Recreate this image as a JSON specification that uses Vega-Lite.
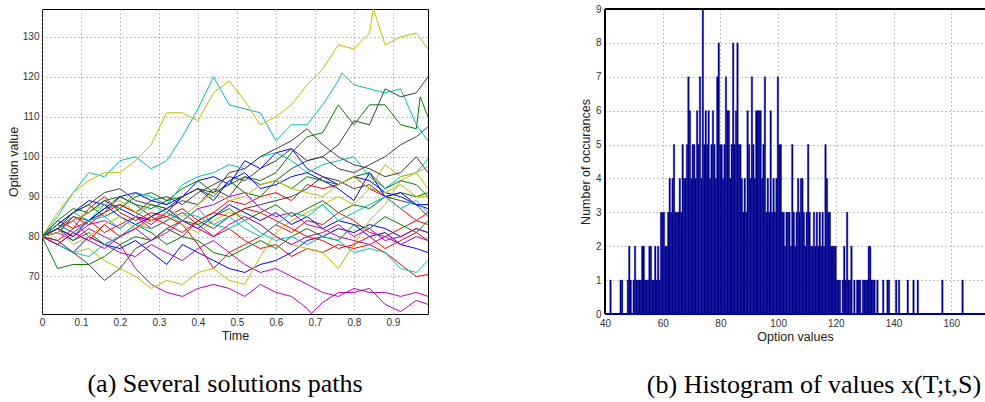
{
"$schema": "https://vega.github.io/schema/vega-lite/v6.json",
"padding": {"left": 6, "top": 4, "right": 0, "bottom": 0},
"background": "white",
"spacing": 150,
"config": {
 "font": "Liberation Sans",
 "view": {"stroke": "#000", "strokeWidth": 1},
 "axis": {"grid": true, "gridDash": [1, 3], "gridColor": "#888", "gridOpacity": 1, "domain": false, "ticks": false,
  "labelFont": "Liberation Sans", "labelFontSize": 10, "labelColor": "#333", "labelPadding": 3,
  "titleFont": "Liberation Sans", "titleFontSize": 12.5, "titleFontWeight": "normal", "titleColor": "#222", "titlePadding": 2,
  "labelFlush": false, "labelOverlap": false},
 "title": {"font": "Liberation Serif", "fontSize": 26, "fontWeight": "normal", "color": "#000", "orient": "bottom", "baseline": "top", "offset": 29}
},
"datasets": {
 "paths": [
{"s":"B1","t":0,"v":80},{"s":"B1","t":0.04,"v":81},{"s":"B1","t":0.08,"v":84},{"s":"B1","t":0.12,"v":86},{"s":"B1","t":0.16,"v":89},{"s":"B1","t":0.2,"v":87},{"s":"B1","t":0.24,"v":85},{"s":"B1","t":0.28,"v":84},{"s":"B1","t":0.32,"v":86},{"s":"B1","t":0.36,"v":90},{"s":"B1","t":0.4,"v":94},{"s":"B1","t":0.44,"v":95},{"s":"B1","t":0.48,"v":93},{"s":"B1","t":0.52,"v":99},{"s":"B1","t":0.56,"v":97},{"s":"B1","t":0.6,"v":101},{"s":"B1","t":0.64,"v":102},{"s":"B1","t":0.68,"v":97},{"s":"B1","t":0.72,"v":95},{"s":"B1","t":0.76,"v":93},{"s":"B1","t":0.8,"v":95},{"s":"B1","t":0.84,"v":94},{"s":"B1","t":0.88,"v":91},{"s":"B1","t":0.92,"v":90},{"s":"B1","t":0.96,"v":88},{"s":"B1","t":0.99,"v":87},
{"s":"G1","t":0,"v":80},{"s":"G1","t":0.04,"v":83},{"s":"G1","t":0.08,"v":86},{"s":"G1","t":0.12,"v":88},{"s":"G1","t":0.16,"v":85},{"s":"G1","t":0.2,"v":87},{"s":"G1","t":0.24,"v":90},{"s":"G1","t":0.28,"v":91},{"s":"G1","t":0.32,"v":89},{"s":"G1","t":0.36,"v":92},{"s":"G1","t":0.4,"v":94},{"s":"G1","t":0.44,"v":91},{"s":"G1","t":0.48,"v":93},{"s":"G1","t":0.52,"v":95},{"s":"G1","t":0.56,"v":94},{"s":"G1","t":0.6,"v":96},{"s":"G1","t":0.64,"v":101},{"s":"G1","t":0.68,"v":105},{"s":"G1","t":0.72,"v":106},{"s":"G1","t":0.76,"v":113},{"s":"G1","t":0.8,"v":108},{"s":"G1","t":0.84,"v":113},{"s":"G1","t":0.88,"v":113},{"s":"G1","t":0.92,"v":108},{"s":"G1","t":0.96,"v":107},{"s":"G1","t":0.97,"v":115},{"s":"G1","t":0.99,"v":110},
{"s":"R1","t":0,"v":80},{"s":"R1","t":0.04,"v":79},{"s":"R1","t":0.08,"v":82},{"s":"R1","t":0.12,"v":84},{"s":"R1","t":0.16,"v":81},{"s":"R1","t":0.2,"v":83},{"s":"R1","t":0.24,"v":85},{"s":"R1","t":0.28,"v":82},{"s":"R1","t":0.32,"v":84},{"s":"R1","t":0.36,"v":86},{"s":"R1","t":0.4,"v":83},{"s":"R1","t":0.44,"v":80},{"s":"R1","t":0.48,"v":82},{"s":"R1","t":0.52,"v":79},{"s":"R1","t":0.56,"v":77},{"s":"R1","t":0.6,"v":78},{"s":"R1","t":0.64,"v":75},{"s":"R1","t":0.68,"v":77},{"s":"R1","t":0.72,"v":76},{"s":"R1","t":0.76,"v":78},{"s":"R1","t":0.8,"v":77},{"s":"R1","t":0.84,"v":78},{"s":"R1","t":0.88,"v":76},{"s":"R1","t":0.92,"v":73},{"s":"R1","t":0.96,"v":70},{"s":"R1","t":0.99,"v":70.5},
{"s":"C1","t":0,"v":80},{"s":"C1","t":0.04,"v":85},{"s":"C1","t":0.08,"v":91},{"s":"C1","t":0.12,"v":96},{"s":"C1","t":0.16,"v":95},{"s":"C1","t":0.2,"v":99},{"s":"C1","t":0.24,"v":100},{"s":"C1","t":0.28,"v":97},{"s":"C1","t":0.32,"v":99},{"s":"C1","t":0.36,"v":105},{"s":"C1","t":0.4,"v":112},{"s":"C1","t":0.44,"v":120},{"s":"C1","t":0.48,"v":113},{"s":"C1","t":0.52,"v":112},{"s":"C1","t":0.56,"v":111},{"s":"C1","t":0.6,"v":104},{"s":"C1","t":0.64,"v":108},{"s":"C1","t":0.68,"v":108},{"s":"C1","t":0.72,"v":113},{"s":"C1","t":0.76,"v":119},{"s":"C1","t":0.77,"v":121},{"s":"C1","t":0.8,"v":118},{"s":"C1","t":0.84,"v":117},{"s":"C1","t":0.88,"v":116},{"s":"C1","t":0.92,"v":117},{"s":"C1","t":0.96,"v":108},{"s":"C1","t":0.99,"v":104},
{"s":"M1","t":0,"v":80},{"s":"M1","t":0.04,"v":81},{"s":"M1","t":0.08,"v":79},{"s":"M1","t":0.12,"v":82},{"s":"M1","t":0.16,"v":80},{"s":"M1","t":0.2,"v":78},{"s":"M1","t":0.24,"v":72},{"s":"M1","t":0.28,"v":68},{"s":"M1","t":0.32,"v":66},{"s":"M1","t":0.36,"v":65},{"s":"M1","t":0.4,"v":67},{"s":"M1","t":0.44,"v":68},{"s":"M1","t":0.48,"v":67},{"s":"M1","t":0.52,"v":65},{"s":"M1","t":0.56,"v":68},{"s":"M1","t":0.6,"v":66},{"s":"M1","t":0.64,"v":65},{"s":"M1","t":0.68,"v":62},{"s":"M1","t":0.69,"v":60.7},{"s":"M1","t":0.72,"v":63.5},{"s":"M1","t":0.76,"v":66},{"s":"M1","t":0.8,"v":66},{"s":"M1","t":0.84,"v":67},{"s":"M1","t":0.88,"v":63},{"s":"M1","t":0.92,"v":61.2},{"s":"M1","t":0.96,"v":64},{"s":"M1","t":0.99,"v":63},
{"s":"Y1","t":0,"v":80},{"s":"Y1","t":0.04,"v":86},{"s":"Y1","t":0.08,"v":91},{"s":"Y1","t":0.12,"v":94},{"s":"Y1","t":0.16,"v":96},{"s":"Y1","t":0.2,"v":96},{"s":"Y1","t":0.24,"v":99},{"s":"Y1","t":0.28,"v":103},{"s":"Y1","t":0.32,"v":111},{"s":"Y1","t":0.36,"v":111},{"s":"Y1","t":0.4,"v":109},{"s":"Y1","t":0.44,"v":116},{"s":"Y1","t":0.48,"v":119},{"s":"Y1","t":0.52,"v":114},{"s":"Y1","t":0.56,"v":108},{"s":"Y1","t":0.6,"v":110},{"s":"Y1","t":0.64,"v":113},{"s":"Y1","t":0.68,"v":118},{"s":"Y1","t":0.72,"v":122},{"s":"Y1","t":0.76,"v":128},{"s":"Y1","t":0.8,"v":127},{"s":"Y1","t":0.84,"v":131},{"s":"Y1","t":0.85,"v":137},{"s":"Y1","t":0.88,"v":128},{"s":"Y1","t":0.92,"v":130},{"s":"Y1","t":0.96,"v":131},{"s":"Y1","t":0.99,"v":127},
{"s":"K1","t":0,"v":80},{"s":"K1","t":0.04,"v":82},{"s":"K1","t":0.08,"v":85},{"s":"K1","t":0.12,"v":84},{"s":"K1","t":0.16,"v":87},{"s":"K1","t":0.2,"v":88},{"s":"K1","t":0.24,"v":86},{"s":"K1","t":0.28,"v":89},{"s":"K1","t":0.32,"v":90},{"s":"K1","t":0.36,"v":88},{"s":"K1","t":0.4,"v":91},{"s":"K1","t":0.44,"v":93},{"s":"K1","t":0.48,"v":95},{"s":"K1","t":0.52,"v":94},{"s":"K1","t":0.56,"v":97},{"s":"K1","t":0.6,"v":99},{"s":"K1","t":0.64,"v":102},{"s":"K1","t":0.68,"v":99},{"s":"K1","t":0.72,"v":100},{"s":"K1","t":0.76,"v":103},{"s":"K1","t":0.8,"v":109},{"s":"K1","t":0.84,"v":108},{"s":"K1","t":0.88,"v":117},{"s":"K1","t":0.92,"v":115},{"s":"K1","t":0.96,"v":116},{"s":"K1","t":0.99,"v":120},
{"s":"B2","t":0,"v":80},{"s":"B2","t":0.04,"v":78},{"s":"B2","t":0.08,"v":76},{"s":"B2","t":0.12,"v":80},{"s":"B2","t":0.16,"v":78},{"s":"B2","t":0.2,"v":77},{"s":"B2","t":0.24,"v":79},{"s":"B2","t":0.28,"v":76},{"s":"B2","t":0.32,"v":73},{"s":"B2","t":0.36,"v":78},{"s":"B2","t":0.4,"v":76},{"s":"B2","t":0.44,"v":74},{"s":"B2","t":0.48,"v":72},{"s":"B2","t":0.52,"v":71},{"s":"B2","t":0.56,"v":73},{"s":"B2","t":0.6,"v":74},{"s":"B2","t":0.64,"v":76},{"s":"B2","t":0.68,"v":79},{"s":"B2","t":0.72,"v":80},{"s":"B2","t":0.76,"v":82},{"s":"B2","t":0.8,"v":81},{"s":"B2","t":0.84,"v":83},{"s":"B2","t":0.88,"v":82},{"s":"B2","t":0.92,"v":80},{"s":"B2","t":0.96,"v":82},{"s":"B2","t":0.99,"v":81},
{"s":"G2","t":0,"v":80},{"s":"G2","t":0.04,"v":72},{"s":"G2","t":0.08,"v":73},{"s":"G2","t":0.12,"v":73},{"s":"G2","t":0.16,"v":75},{"s":"G2","t":0.2,"v":78},{"s":"G2","t":0.24,"v":80},{"s":"G2","t":0.28,"v":79},{"s":"G2","t":0.32,"v":82},{"s":"G2","t":0.36,"v":84},{"s":"G2","t":0.4,"v":83},{"s":"G2","t":0.44,"v":85},{"s":"G2","t":0.48,"v":87},{"s":"G2","t":0.52,"v":84},{"s":"G2","t":0.56,"v":86},{"s":"G2","t":0.6,"v":88},{"s":"G2","t":0.64,"v":85},{"s":"G2","t":0.68,"v":87},{"s":"G2","t":0.72,"v":89},{"s":"G2","t":0.76,"v":86},{"s":"G2","t":0.8,"v":88},{"s":"G2","t":0.84,"v":87},{"s":"G2","t":0.88,"v":90},{"s":"G2","t":0.92,"v":91},{"s":"G2","t":0.96,"v":90},{"s":"G2","t":0.99,"v":91},
{"s":"R2","t":0,"v":80},{"s":"R2","t":0.04,"v":84},{"s":"R2","t":0.08,"v":82},{"s":"R2","t":0.12,"v":87},{"s":"R2","t":0.16,"v":90},{"s":"R2","t":0.2,"v":86},{"s":"R2","t":0.24,"v":84},{"s":"R2","t":0.28,"v":86},{"s":"R2","t":0.32,"v":85},{"s":"R2","t":0.36,"v":83},{"s":"R2","t":0.4,"v":78},{"s":"R2","t":0.44,"v":72},{"s":"R2","t":0.48,"v":76},{"s":"R2","t":0.52,"v":78},{"s":"R2","t":0.56,"v":80},{"s":"R2","t":0.6,"v":83},{"s":"R2","t":0.64,"v":81},{"s":"R2","t":0.68,"v":84},{"s":"R2","t":0.72,"v":83},{"s":"R2","t":0.76,"v":86},{"s":"R2","t":0.8,"v":84},{"s":"R2","t":0.84,"v":81},{"s":"R2","t":0.88,"v":80},{"s":"R2","t":0.92,"v":82},{"s":"R2","t":0.96,"v":84},{"s":"R2","t":0.99,"v":83},
{"s":"C2","t":0,"v":80},{"s":"C2","t":0.04,"v":83},{"s":"C2","t":0.08,"v":86},{"s":"C2","t":0.12,"v":84},{"s":"C2","t":0.16,"v":88},{"s":"C2","t":0.2,"v":87},{"s":"C2","t":0.24,"v":91},{"s":"C2","t":0.28,"v":90},{"s":"C2","t":0.32,"v":88},{"s":"C2","t":0.36,"v":93},{"s":"C2","t":0.4,"v":95},{"s":"C2","t":0.44,"v":96},{"s":"C2","t":0.48,"v":98},{"s":"C2","t":0.52,"v":97},{"s":"C2","t":0.56,"v":100},{"s":"C2","t":0.6,"v":101},{"s":"C2","t":0.64,"v":99},{"s":"C2","t":0.68,"v":96},{"s":"C2","t":0.72,"v":98},{"s":"C2","t":0.76,"v":99},{"s":"C2","t":0.8,"v":100},{"s":"C2","t":0.84,"v":95},{"s":"C2","t":0.88,"v":92},{"s":"C2","t":0.92,"v":95},{"s":"C2","t":0.96,"v":96},{"s":"C2","t":0.99,"v":99.5},
{"s":"M2","t":0,"v":80},{"s":"M2","t":0.04,"v":82},{"s":"M2","t":0.08,"v":84},{"s":"M2","t":0.12,"v":80},{"s":"M2","t":0.16,"v":78},{"s":"M2","t":0.2,"v":76},{"s":"M2","t":0.24,"v":75},{"s":"M2","t":0.28,"v":78},{"s":"M2","t":0.32,"v":76},{"s":"M2","t":0.36,"v":74},{"s":"M2","t":0.4,"v":77},{"s":"M2","t":0.44,"v":79},{"s":"M2","t":0.48,"v":76},{"s":"M2","t":0.52,"v":73},{"s":"M2","t":0.56,"v":71},{"s":"M2","t":0.6,"v":72},{"s":"M2","t":0.64,"v":70},{"s":"M2","t":0.68,"v":68},{"s":"M2","t":0.72,"v":66},{"s":"M2","t":0.76,"v":65},{"s":"M2","t":0.8,"v":67},{"s":"M2","t":0.84,"v":66},{"s":"M2","t":0.88,"v":66},{"s":"M2","t":0.92,"v":65},{"s":"M2","t":0.96,"v":66},{"s":"M2","t":0.99,"v":65},
{"s":"Y2","t":0,"v":80},{"s":"Y2","t":0.04,"v":79},{"s":"Y2","t":0.08,"v":76},{"s":"Y2","t":0.12,"v":77},{"s":"Y2","t":0.16,"v":74},{"s":"Y2","t":0.2,"v":72},{"s":"Y2","t":0.24,"v":70},{"s":"Y2","t":0.28,"v":67},{"s":"Y2","t":0.32,"v":69},{"s":"Y2","t":0.36,"v":68},{"s":"Y2","t":0.4,"v":71},{"s":"Y2","t":0.44,"v":72},{"s":"Y2","t":0.48,"v":69},{"s":"Y2","t":0.52,"v":68},{"s":"Y2","t":0.56,"v":75},{"s":"Y2","t":0.6,"v":81},{"s":"Y2","t":0.64,"v":84},{"s":"Y2","t":0.68,"v":86},{"s":"Y2","t":0.72,"v":88},{"s":"Y2","t":0.76,"v":90},{"s":"Y2","t":0.8,"v":88},{"s":"Y2","t":0.84,"v":92},{"s":"Y2","t":0.88,"v":91},{"s":"Y2","t":0.92,"v":93},{"s":"Y2","t":0.96,"v":90},{"s":"Y2","t":0.99,"v":90},
{"s":"K2","t":0,"v":80},{"s":"K2","t":0.04,"v":83},{"s":"K2","t":0.08,"v":81},{"s":"K2","t":0.12,"v":84},{"s":"K2","t":0.16,"v":86},{"s":"K2","t":0.2,"v":90},{"s":"K2","t":0.24,"v":88},{"s":"K2","t":0.28,"v":85},{"s":"K2","t":0.32,"v":87},{"s":"K2","t":0.36,"v":89},{"s":"K2","t":0.4,"v":88},{"s":"K2","t":0.44,"v":92},{"s":"K2","t":0.48,"v":90},{"s":"K2","t":0.52,"v":95},{"s":"K2","t":0.56,"v":93},{"s":"K2","t":0.6,"v":94},{"s":"K2","t":0.64,"v":97},{"s":"K2","t":0.68,"v":99},{"s":"K2","t":0.72,"v":100},{"s":"K2","t":0.76,"v":97},{"s":"K2","t":0.8,"v":96},{"s":"K2","t":0.84,"v":98},{"s":"K2","t":0.88,"v":100},{"s":"K2","t":0.92,"v":103},{"s":"K2","t":0.96,"v":105},{"s":"K2","t":0.99,"v":107.5},
{"s":"B3","t":0,"v":80},{"s":"B3","t":0.04,"v":83},{"s":"B3","t":0.08,"v":86},{"s":"B3","t":0.12,"v":89},{"s":"B3","t":0.16,"v":88},{"s":"B3","t":0.2,"v":85},{"s":"B3","t":0.24,"v":83},{"s":"B3","t":0.28,"v":85},{"s":"B3","t":0.32,"v":87},{"s":"B3","t":0.36,"v":84},{"s":"B3","t":0.4,"v":82},{"s":"B3","t":0.44,"v":85},{"s":"B3","t":0.48,"v":88},{"s":"B3","t":0.52,"v":86},{"s":"B3","t":0.56,"v":84},{"s":"B3","t":0.6,"v":86},{"s":"B3","t":0.64,"v":83},{"s":"B3","t":0.68,"v":85},{"s":"B3","t":0.72,"v":82},{"s":"B3","t":0.76,"v":84},{"s":"B3","t":0.8,"v":83},{"s":"B3","t":0.84,"v":80},{"s":"B3","t":0.88,"v":81},{"s":"B3","t":0.92,"v":78},{"s":"B3","t":0.96,"v":77},{"s":"B3","t":0.99,"v":76},
{"s":"G3","t":0,"v":80},{"s":"G3","t":0.04,"v":82},{"s":"G3","t":0.08,"v":79},{"s":"G3","t":0.12,"v":81},{"s":"G3","t":0.16,"v":78},{"s":"G3","t":0.2,"v":80},{"s":"G3","t":0.24,"v":83},{"s":"G3","t":0.28,"v":81},{"s":"G3","t":0.32,"v":78},{"s":"G3","t":0.36,"v":80},{"s":"G3","t":0.4,"v":79},{"s":"G3","t":0.44,"v":76},{"s":"G3","t":0.48,"v":75},{"s":"G3","t":0.52,"v":77},{"s":"G3","t":0.56,"v":79},{"s":"G3","t":0.6,"v":77},{"s":"G3","t":0.64,"v":80},{"s":"G3","t":0.68,"v":82},{"s":"G3","t":0.72,"v":80},{"s":"G3","t":0.76,"v":79},{"s":"G3","t":0.8,"v":83},{"s":"G3","t":0.84,"v":82},{"s":"G3","t":0.88,"v":85},{"s":"G3","t":0.92,"v":83},{"s":"G3","t":0.96,"v":81},{"s":"G3","t":0.99,"v":84},
{"s":"R3","t":0,"v":80},{"s":"R3","t":0.04,"v":81},{"s":"R3","t":0.08,"v":85},{"s":"R3","t":0.12,"v":83},{"s":"R3","t":0.16,"v":86},{"s":"R3","t":0.2,"v":88},{"s":"R3","t":0.24,"v":86},{"s":"R3","t":0.28,"v":84},{"s":"R3","t":0.32,"v":85},{"s":"R3","t":0.36,"v":87},{"s":"R3","t":0.4,"v":84},{"s":"R3","t":0.44,"v":86},{"s":"R3","t":0.48,"v":89},{"s":"R3","t":0.52,"v":88},{"s":"R3","t":0.56,"v":90},{"s":"R3","t":0.6,"v":91},{"s":"R3","t":0.64,"v":89},{"s":"R3","t":0.68,"v":93},{"s":"R3","t":0.72,"v":92},{"s":"R3","t":0.76,"v":93},{"s":"R3","t":0.8,"v":95},{"s":"R3","t":0.84,"v":92},{"s":"R3","t":0.88,"v":90},{"s":"R3","t":0.92,"v":87},{"s":"R3","t":0.96,"v":84},{"s":"R3","t":0.99,"v":86},
{"s":"C3","t":0,"v":80},{"s":"C3","t":0.04,"v":78},{"s":"C3","t":0.08,"v":76},{"s":"C3","t":0.12,"v":75},{"s":"C3","t":0.16,"v":78},{"s":"C3","t":0.2,"v":80},{"s":"C3","t":0.24,"v":83},{"s":"C3","t":0.28,"v":82},{"s":"C3","t":0.32,"v":84},{"s":"C3","t":0.36,"v":86},{"s":"C3","t":0.4,"v":85},{"s":"C3","t":0.44,"v":83},{"s":"C3","t":0.48,"v":82},{"s":"C3","t":0.52,"v":84},{"s":"C3","t":0.56,"v":81},{"s":"C3","t":0.6,"v":79},{"s":"C3","t":0.64,"v":80},{"s":"C3","t":0.68,"v":78},{"s":"C3","t":0.72,"v":80},{"s":"C3","t":0.76,"v":79},{"s":"C3","t":0.8,"v":76},{"s":"C3","t":0.84,"v":77},{"s":"C3","t":0.88,"v":76},{"s":"C3","t":0.92,"v":72},{"s":"C3","t":0.96,"v":71},{"s":"C3","t":0.99,"v":74},
{"s":"M3","t":0,"v":80},{"s":"M3","t":0.04,"v":82},{"s":"M3","t":0.08,"v":80},{"s":"M3","t":0.12,"v":83},{"s":"M3","t":0.16,"v":84},{"s":"M3","t":0.2,"v":82},{"s":"M3","t":0.24,"v":85},{"s":"M3","t":0.28,"v":83},{"s":"M3","t":0.32,"v":86},{"s":"M3","t":0.36,"v":84},{"s":"M3","t":0.4,"v":87},{"s":"M3","t":0.44,"v":88},{"s":"M3","t":0.48,"v":90},{"s":"M3","t":0.52,"v":91},{"s":"M3","t":0.56,"v":87},{"s":"M3","t":0.6,"v":85},{"s":"M3","t":0.64,"v":86},{"s":"M3","t":0.68,"v":83},{"s":"M3","t":0.72,"v":82},{"s":"M3","t":0.76,"v":80},{"s":"M3","t":0.8,"v":79},{"s":"M3","t":0.84,"v":78},{"s":"M3","t":0.88,"v":80},{"s":"M3","t":0.92,"v":78},{"s":"M3","t":0.96,"v":80},{"s":"M3","t":0.99,"v":79},
{"s":"Y3","t":0,"v":80},{"s":"Y3","t":0.04,"v":82},{"s":"Y3","t":0.08,"v":78},{"s":"Y3","t":0.12,"v":80},{"s":"Y3","t":0.16,"v":83},{"s":"Y3","t":0.2,"v":85},{"s":"Y3","t":0.24,"v":82},{"s":"Y3","t":0.28,"v":84},{"s":"Y3","t":0.32,"v":86},{"s":"Y3","t":0.36,"v":83},{"s":"Y3","t":0.4,"v":81},{"s":"Y3","t":0.44,"v":84},{"s":"Y3","t":0.48,"v":86},{"s":"Y3","t":0.52,"v":85},{"s":"Y3","t":0.56,"v":83},{"s":"Y3","t":0.6,"v":80},{"s":"Y3","t":0.64,"v":78},{"s":"Y3","t":0.68,"v":77},{"s":"Y3","t":0.72,"v":76},{"s":"Y3","t":0.76,"v":72},{"s":"Y3","t":0.8,"v":78},{"s":"Y3","t":0.84,"v":84},{"s":"Y3","t":0.88,"v":88},{"s":"Y3","t":0.92,"v":94},{"s":"Y3","t":0.96,"v":96},{"s":"Y3","t":0.99,"v":97.5},
{"s":"K3","t":0,"v":80},{"s":"K3","t":0.04,"v":79},{"s":"K3","t":0.08,"v":76},{"s":"K3","t":0.12,"v":73},{"s":"K3","t":0.16,"v":69},{"s":"K3","t":0.2,"v":72},{"s":"K3","t":0.24,"v":77},{"s":"K3","t":0.28,"v":79},{"s":"K3","t":0.32,"v":82},{"s":"K3","t":0.36,"v":80},{"s":"K3","t":0.4,"v":84},{"s":"K3","t":0.44,"v":82},{"s":"K3","t":0.48,"v":85},{"s":"K3","t":0.52,"v":87},{"s":"K3","t":0.56,"v":88},{"s":"K3","t":0.6,"v":89},{"s":"K3","t":0.64,"v":90},{"s":"K3","t":0.68,"v":92},{"s":"K3","t":0.72,"v":95},{"s":"K3","t":0.76,"v":94},{"s":"K3","t":0.8,"v":92},{"s":"K3","t":0.84,"v":93},{"s":"K3","t":0.88,"v":90},{"s":"K3","t":0.92,"v":89},{"s":"K3","t":0.96,"v":88},{"s":"K3","t":0.99,"v":85},
{"s":"B4","t":0,"v":80},{"s":"B4","t":0.04,"v":82},{"s":"B4","t":0.08,"v":80},{"s":"B4","t":0.12,"v":84},{"s":"B4","t":0.16,"v":87},{"s":"B4","t":0.2,"v":90},{"s":"B4","t":0.24,"v":91},{"s":"B4","t":0.28,"v":89},{"s":"B4","t":0.32,"v":88},{"s":"B4","t":0.36,"v":90},{"s":"B4","t":0.4,"v":92},{"s":"B4","t":0.44,"v":89},{"s":"B4","t":0.48,"v":94},{"s":"B4","t":0.52,"v":96},{"s":"B4","t":0.56,"v":92},{"s":"B4","t":0.6,"v":93},{"s":"B4","t":0.64,"v":95},{"s":"B4","t":0.68,"v":96},{"s":"B4","t":0.72,"v":94},{"s":"B4","t":0.76,"v":92},{"s":"B4","t":0.8,"v":89},{"s":"B4","t":0.84,"v":96},{"s":"B4","t":0.88,"v":90},{"s":"B4","t":0.92,"v":91},{"s":"B4","t":0.96,"v":88},{"s":"B4","t":0.99,"v":88},
{"s":"G4","t":0,"v":80},{"s":"G4","t":0.04,"v":84},{"s":"G4","t":0.08,"v":87},{"s":"G4","t":0.12,"v":86},{"s":"G4","t":0.16,"v":89},{"s":"G4","t":0.2,"v":90},{"s":"G4","t":0.24,"v":88},{"s":"G4","t":0.28,"v":87},{"s":"G4","t":0.32,"v":89},{"s":"G4","t":0.36,"v":90},{"s":"G4","t":0.4,"v":92},{"s":"G4","t":0.44,"v":90},{"s":"G4","t":0.48,"v":94},{"s":"G4","t":0.52,"v":91},{"s":"G4","t":0.56,"v":90},{"s":"G4","t":0.6,"v":94},{"s":"G4","t":0.64,"v":92},{"s":"G4","t":0.68,"v":95},{"s":"G4","t":0.72,"v":94},{"s":"G4","t":0.76,"v":93},{"s":"G4","t":0.8,"v":95},{"s":"G4","t":0.84,"v":96},{"s":"G4","t":0.88,"v":92},{"s":"G4","t":0.92,"v":94},{"s":"G4","t":0.96,"v":93},{"s":"G4","t":0.99,"v":90},
{"s":"R4","t":0,"v":80},{"s":"R4","t":0.04,"v":78},{"s":"R4","t":0.08,"v":81},{"s":"R4","t":0.12,"v":79},{"s":"R4","t":0.16,"v":83},{"s":"R4","t":0.2,"v":80},{"s":"R4","t":0.24,"v":82},{"s":"R4","t":0.28,"v":85},{"s":"R4","t":0.32,"v":83},{"s":"R4","t":0.36,"v":81},{"s":"R4","t":0.4,"v":84},{"s":"R4","t":0.44,"v":86},{"s":"R4","t":0.48,"v":85},{"s":"R4","t":0.52,"v":87},{"s":"R4","t":0.56,"v":86},{"s":"R4","t":0.6,"v":84},{"s":"R4","t":0.64,"v":82},{"s":"R4","t":0.68,"v":80},{"s":"R4","t":0.72,"v":79},{"s":"R4","t":0.76,"v":77},{"s":"R4","t":0.8,"v":78},{"s":"R4","t":0.84,"v":80},{"s":"R4","t":0.88,"v":77},{"s":"R4","t":0.92,"v":79},{"s":"R4","t":0.96,"v":81},{"s":"R4","t":0.99,"v":79},
{"s":"C4","t":0,"v":80},{"s":"C4","t":0.04,"v":83},{"s":"C4","t":0.08,"v":81},{"s":"C4","t":0.12,"v":84},{"s":"C4","t":0.16,"v":85},{"s":"C4","t":0.2,"v":82},{"s":"C4","t":0.24,"v":85},{"s":"C4","t":0.28,"v":88},{"s":"C4","t":0.32,"v":86},{"s":"C4","t":0.36,"v":84},{"s":"C4","t":0.4,"v":87},{"s":"C4","t":0.44,"v":83},{"s":"C4","t":0.48,"v":85},{"s":"C4","t":0.52,"v":82},{"s":"C4","t":0.56,"v":80},{"s":"C4","t":0.6,"v":83},{"s":"C4","t":0.64,"v":86},{"s":"C4","t":0.68,"v":85},{"s":"C4","t":0.72,"v":88},{"s":"C4","t":0.76,"v":84},{"s":"C4","t":0.8,"v":86},{"s":"C4","t":0.84,"v":88},{"s":"C4","t":0.88,"v":90},{"s":"C4","t":0.92,"v":87},{"s":"C4","t":0.96,"v":89},{"s":"C4","t":0.99,"v":86},
{"s":"M4","t":0,"v":80},{"s":"M4","t":0.04,"v":78},{"s":"M4","t":0.08,"v":81},{"s":"M4","t":0.12,"v":79},{"s":"M4","t":0.16,"v":77},{"s":"M4","t":0.2,"v":80},{"s":"M4","t":0.24,"v":82},{"s":"M4","t":0.28,"v":79},{"s":"M4","t":0.32,"v":81},{"s":"M4","t":0.36,"v":84},{"s":"M4","t":0.4,"v":82},{"s":"M4","t":0.44,"v":80},{"s":"M4","t":0.48,"v":83},{"s":"M4","t":0.52,"v":85},{"s":"M4","t":0.56,"v":83},{"s":"M4","t":0.6,"v":80},{"s":"M4","t":0.64,"v":78},{"s":"M4","t":0.68,"v":80},{"s":"M4","t":0.72,"v":81},{"s":"M4","t":0.76,"v":83},{"s":"M4","t":0.8,"v":80},{"s":"M4","t":0.84,"v":82},{"s":"M4","t":0.88,"v":79},{"s":"M4","t":0.92,"v":80},{"s":"M4","t":0.96,"v":82},{"s":"M4","t":0.99,"v":81},
{"s":"Y4","t":0,"v":80},{"s":"Y4","t":0.04,"v":81},{"s":"Y4","t":0.08,"v":84},{"s":"Y4","t":0.12,"v":86},{"s":"Y4","t":0.16,"v":88},{"s":"Y4","t":0.2,"v":89},{"s":"Y4","t":0.24,"v":86},{"s":"Y4","t":0.28,"v":88},{"s":"Y4","t":0.32,"v":87},{"s":"Y4","t":0.36,"v":85},{"s":"Y4","t":0.4,"v":88},{"s":"Y4","t":0.44,"v":91},{"s":"Y4","t":0.48,"v":89},{"s":"Y4","t":0.52,"v":90},{"s":"Y4","t":0.56,"v":93},{"s":"Y4","t":0.6,"v":94},{"s":"Y4","t":0.64,"v":92},{"s":"Y4","t":0.68,"v":91},{"s":"Y4","t":0.72,"v":90},{"s":"Y4","t":0.76,"v":93},{"s":"Y4","t":0.8,"v":95},{"s":"Y4","t":0.84,"v":92},{"s":"Y4","t":0.88,"v":98},{"s":"Y4","t":0.92,"v":95},{"s":"Y4","t":0.96,"v":96},{"s":"Y4","t":0.99,"v":92},
{"s":"K4","t":0,"v":80},{"s":"K4","t":0.04,"v":82},{"s":"K4","t":0.08,"v":86},{"s":"K4","t":0.12,"v":88},{"s":"K4","t":0.16,"v":91},{"s":"K4","t":0.2,"v":92},{"s":"K4","t":0.24,"v":89},{"s":"K4","t":0.28,"v":88},{"s":"K4","t":0.32,"v":87},{"s":"K4","t":0.36,"v":90},{"s":"K4","t":0.4,"v":92},{"s":"K4","t":0.44,"v":91},{"s":"K4","t":0.48,"v":96},{"s":"K4","t":0.52,"v":97},{"s":"K4","t":0.56,"v":100},{"s":"K4","t":0.6,"v":102},{"s":"K4","t":0.64,"v":104},{"s":"K4","t":0.68,"v":107},{"s":"K4","t":0.72,"v":103},{"s":"K4","t":0.76,"v":100},{"s":"K4","t":0.8,"v":98},{"s":"K4","t":0.84,"v":97},{"s":"K4","t":0.88,"v":95},{"s":"K4","t":0.92,"v":96},{"s":"K4","t":0.96,"v":100},{"s":"K4","t":0.99,"v":96}
 ],
 "hist": [
{"x":41.5,"n":1},{"x":45,"n":1},{"x":45.5,"n":1},{"x":47.5,"n":1},{"x":48,"n":2},{"x":48.5,"n":1},{"x":49.5,"n":1},{"x":50,"n":2},{"x":50.5,"n":1},{"x":51,"n":1},{"x":51.5,"n":1},{"x":52,"n":1},{"x":52.5,"n":2},{"x":53,"n":2},{"x":53.5,"n":1},{"x":54,"n":1},{"x":54.5,"n":1},{"x":55,"n":2},{"x":55.5,"n":2},{"x":56,"n":1},{"x":56.5,"n":1},{"x":57,"n":2},{"x":57.5,"n":1},{"x":58,"n":2},{"x":58.5,"n":1},{"x":59,"n":3},{"x":59.5,"n":3},{"x":60,"n":3},{"x":60.5,"n":2},{"x":61,"n":2},{"x":61.5,"n":3},{"x":62,"n":4},{"x":62.5,"n":3},{"x":63,"n":4},{"x":63.5,"n":5},{"x":64,"n":3},{"x":64.5,"n":3},{"x":65,"n":3},{"x":65.5,"n":4},{"x":66,"n":3},{"x":66.5,"n":5},{"x":67,"n":4},{"x":67.5,"n":4},{"x":68,"n":5},{"x":68.5,"n":7},{"x":69,"n":6},{"x":69.5,"n":4},{"x":70,"n":5},{"x":70.5,"n":5},{"x":71,"n":4},{"x":71.5,"n":6},{"x":72,"n":5},{"x":72.5,"n":7},{"x":73,"n":4},{"x":73.5,"n":9},{"x":74,"n":5},{"x":74.5,"n":6},{"x":75,"n":5},{"x":75.5,"n":6},{"x":76,"n":4},{"x":76.5,"n":5},{"x":77,"n":6},{"x":77.5,"n":5},{"x":78,"n":4},{"x":78.5,"n":7},{"x":79,"n":8},{"x":79.5,"n":5},{"x":80,"n":5},{"x":80.5,"n":4},{"x":81,"n":5},{"x":81.5,"n":7},{"x":82,"n":6},{"x":82.5,"n":6},{"x":83,"n":4},{"x":83.5,"n":5},{"x":84,"n":8},{"x":84.5,"n":5},{"x":85,"n":6},{"x":85.5,"n":8},{"x":86,"n":5},{"x":86.5,"n":5},{"x":87,"n":4},{"x":87.5,"n":3},{"x":88,"n":4},{"x":88.5,"n":3},{"x":89,"n":6},{"x":89.5,"n":5},{"x":90,"n":4},{"x":90.5,"n":7},{"x":91,"n":5},{"x":91.5,"n":4},{"x":92,"n":6},{"x":92.5,"n":6},{"x":93,"n":6},{"x":93.5,"n":6},{"x":94,"n":4},{"x":94.5,"n":5},{"x":95,"n":7},{"x":95.5,"n":3},{"x":96,"n":4},{"x":96.5,"n":3},{"x":97,"n":6},{"x":97.5,"n":3},{"x":98,"n":4},{"x":98.5,"n":3},{"x":99,"n":4},{"x":99.5,"n":7},{"x":100,"n":5},{"x":100.5,"n":5},{"x":101,"n":3},{"x":101.5,"n":3},{"x":102,"n":2},{"x":102.5,"n":3},{"x":103,"n":3},{"x":103.5,"n":3},{"x":104,"n":2},{"x":104.5,"n":5},{"x":105,"n":3},{"x":105.5,"n":2},{"x":106,"n":3},{"x":106.5,"n":4},{"x":107,"n":3},{"x":107.5,"n":4},{"x":108,"n":4},{"x":108.5,"n":3},{"x":109,"n":2},{"x":109.5,"n":3},{"x":110,"n":5},{"x":110.5,"n":3},{"x":111,"n":2},{"x":111.5,"n":2},{"x":112,"n":3},{"x":112.5,"n":2},{"x":113,"n":3},{"x":113.5,"n":2},{"x":114,"n":3},{"x":114.5,"n":2},{"x":115,"n":3},{"x":115.5,"n":2},{"x":116,"n":5},{"x":116.5,"n":4},{"x":117,"n":3},{"x":117.5,"n":3},{"x":118,"n":2},{"x":118.5,"n":2},{"x":119,"n":2},{"x":119.5,"n":2},{"x":120,"n":1},{"x":120.5,"n":1},{"x":121,"n":1},{"x":122,"n":1},{"x":122.5,"n":2},{"x":123,"n":1},{"x":123.5,"n":3},{"x":124,"n":1},{"x":124.5,"n":1},{"x":125,"n":2},{"x":126,"n":1},{"x":127,"n":1},{"x":127.5,"n":1},{"x":128,"n":1},{"x":129,"n":1},{"x":129.5,"n":1},{"x":130,"n":1},{"x":130.5,"n":1},{"x":131,"n":2},{"x":131.5,"n":2},{"x":132,"n":1},{"x":132.5,"n":1},{"x":133,"n":1},{"x":134,"n":1},{"x":136,"n":1},{"x":137.5,"n":1},{"x":138,"n":1},{"x":140.5,"n":1},{"x":141.5,"n":1},{"x":144.5,"n":1},{"x":146.5,"n":1},{"x":148,"n":1},{"x":156.5,"n":1},{"x":163.5,"n":1}
 ]
},
"hconcat": [
 {
  "width": 386, "height": 305,
  "title": {"text": "(a) Several solutions paths", "dx": -10},
  "data": {"name": "paths"},
  "mark": {"type": "line", "strokeWidth": 1, "clip": true},
  "encoding": {
   "x": {"field": "t", "type": "quantitative", "scale": {"domain": [0, 0.99], "nice": false},
    "axis": {"values": [0, 0.1, 0.2, 0.3, 0.4, 0.5, 0.6, 0.7, 0.8, 0.9], "format": "~g", "title": "Time"}},
   "y": {"field": "v", "type": "quantitative", "scale": {"domain": [60.6, 137], "nice": false, "zero": false},
    "axis": {"values": [70, 80, 90, 100, 110, 120, 130], "title": "Option value"}},
   "color": {"field": "s", "type": "nominal", "legend": null,
    "scale": {"domain": ["B1","G1","R1","C1","M1","Y1","K1","B2","G2","R2","C2","M2","Y2","K2","B3","G3","R3","C3","M3","Y3","K3","B4","G4","R4","C4","M4","Y4","K4"],
     "range": ["#0000FF","#008000","#FF0000","#00BFBF","#BF00BF","#BFBF00","#404040","#0000FF","#008000","#FF0000","#00BFBF","#BF00BF","#BFBF00","#404040","#0000FF","#008000","#FF0000","#00BFBF","#BF00BF","#BFBF00","#404040","#0000FF","#008000","#FF0000","#00BFBF","#BF00BF","#BFBF00","#404040"]}}
  }
 },
 {
  "width": 380, "height": 305,
  "view": {"stroke": null},
  "title": {"text": "(b) Histogram of values x(T;t,S)", "dx": 19},
  "data": {"name": "hist"},
  "layer": [
   {"mark": {"type": "bar", "color": "#00008F", "stroke": "#00008F", "strokeWidth": 0.4, "binSpacing": 0},
    "encoding": {
     "x": {"field": "x", "type": "quantitative", "bin": {"binned": true, "step": 0.5}, "scale": {"domain": [40, 171.7], "nice": false},
      "axis": {"values": [40, 60, 80, 100, 120, 140, 160], "format": "~g", "title": "Option values", "labelPadding": 4}},
     "y": {"field": "n", "type": "quantitative", "scale": {"domain": [0, 9], "nice": false},
      "axis": {"values": [0, 1, 2, 3, 4, 5, 6, 7, 8, 9], "tickCount": 10, "labelOverlap": false, "labelPadding": 4, "title": "Number of occurances", "titlePadding": 3}}
    }},
   {"mark": {"type": "rule", "color": "#00008F", "strokeWidth": 1.5},
    "encoding": {"y": {"datum": 0, "type": "quantitative", "scale": {"domain": [0, 9], "nice": false},
      "axis": {"values": [0, 1, 2, 3, 4, 5, 6, 7, 8, 9], "tickCount": 10, "labelOverlap": false, "labelPadding": 4, "title": "Number of occurances", "titlePadding": 3}}}},
   {"mark": {"type": "rule", "color": "#000", "strokeWidth": 1},
    "encoding": {"y": {"datum": 9, "type": "quantitative"}}},
   {"mark": {"type": "rule", "color": "#000", "strokeWidth": 1},
    "encoding": {"x": {"datum": 40, "type": "quantitative"}}}
  ]
 }
]
}
